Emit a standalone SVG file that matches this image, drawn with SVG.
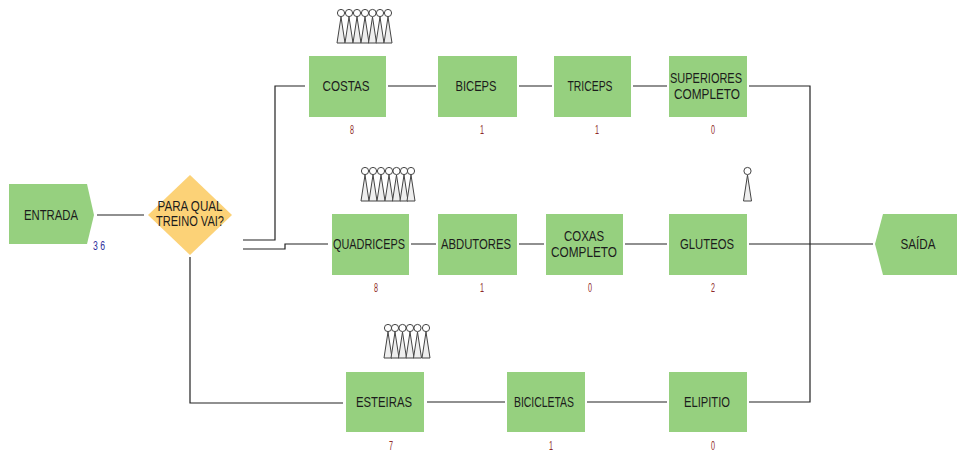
<svg xmlns="http://www.w3.org/2000/svg" width="957" height="453" viewBox="0 0 957 453">
<style>
.n{fill:#96d07f}
.d{fill:#fcd277}
.c{fill:none;stroke:#222;stroke-width:1.2}
.t{font-family:"Liberation Sans",Arial,sans-serif;font-size:14.5px;fill:#1c1c1c;text-anchor:middle}
.r{font-family:"Liberation Sans",Arial,sans-serif;font-size:13px;fill:#8f2b2b;text-anchor:middle}
.b{font-family:"Liberation Sans",Arial,sans-serif;font-size:13px;fill:#2f2f9c}
.p{fill:#eee;stroke:#444;stroke-width:1}
</style>
<defs>
<g id="person">
<polygon class="p" points="0,4 -4,30 4,30"/>
<circle cx="0" cy="0" r="3.600" fill="#fff" stroke="#444" stroke-width="1"/>
</g>
</defs>
<rect width="957" height="453" fill="#fff"/>
<g id="connectors">
<path class="c" d="M97 215H144"/>
<path class="c" d="M243 240H275V86H305"/>
<path class="c" d="M243 249H285V244H328"/>
<path class="c" d="M190 257V403H343"/>
<path class="c" d="M388 86H436M519 86H552M633 86H667"/>
<path class="c" d="M749 86H810V402H749"/>
<path class="c" d="M411 244H436M519 244H544M625 244H667M749 244H873"/>
<path class="c" d="M427 402H505M587 402H667"/>
</g>
<g id="entrada"><polygon class="n" points="9,184 87,184 94,215 87,244 9,244"/><text class="t" x="51" y="219.500" textLength="54" lengthAdjust="spacingAndGlyphs">ENTRADA</text><text class="b" x="93" y="250" textLength="12" lengthAdjust="spacingAndGlyphs">3 6</text></g>
<g id="decisao"><polygon class="d" points="190,175 232,215 190,255 148,215"/><text class="t" x="190" y="211" textLength="65" lengthAdjust="spacingAndGlyphs">PARA QUAL</text><text class="t" x="190" y="226" textLength="68" lengthAdjust="spacingAndGlyphs">TREINO VAI?</text></g>
<g id="costas"><rect class="n" x="309" y="56" width="77" height="61"/><text class="t" x="346" y="90.500" textLength="47" lengthAdjust="spacingAndGlyphs">COSTAS</text><text class="r" x="352" y="134" textLength="4" lengthAdjust="spacingAndGlyphs">8</text></g>
<g id="biceps"><rect class="n" x="438" y="56" width="79" height="61"/><text class="t" x="476" y="90.500" textLength="41" lengthAdjust="spacingAndGlyphs">BICEPS</text><text class="r" x="482" y="134" textLength="4" lengthAdjust="spacingAndGlyphs">1</text></g>
<g id="triceps"><rect class="n" x="554" y="56" width="77" height="61"/><text class="t" x="590" y="90.500" textLength="45" lengthAdjust="spacingAndGlyphs">TRICEPS</text><text class="r" x="597" y="134" textLength="4" lengthAdjust="spacingAndGlyphs">1</text></g>
<g id="superiores"><rect class="n" x="669" y="56" width="78" height="61"/><text class="t" x="706" y="82.500" textLength="72" lengthAdjust="spacingAndGlyphs">SUPERIORES</text><text class="t" x="707" y="98.500" textLength="66" lengthAdjust="spacingAndGlyphs">COMPLETO</text><text class="r" x="713" y="134" textLength="4" lengthAdjust="spacingAndGlyphs">0</text></g>
<g id="quadriceps"><rect class="n" x="332" y="214" width="77" height="61"/><text class="t" x="369" y="249" textLength="72" lengthAdjust="spacingAndGlyphs">QUADRICEPS</text><text class="r" x="376" y="292" textLength="4" lengthAdjust="spacingAndGlyphs">8</text></g>
<g id="abdutores"><rect class="n" x="438" y="214" width="79" height="61"/><text class="t" x="476" y="249" textLength="70" lengthAdjust="spacingAndGlyphs">ABDUTORES</text><text class="r" x="482" y="292" textLength="4" lengthAdjust="spacingAndGlyphs">1</text></g>
<g id="coxas"><rect class="n" x="546" y="214" width="77" height="61"/><text class="t" x="584" y="241" textLength="40" lengthAdjust="spacingAndGlyphs">COXAS</text><text class="t" x="584" y="256.500" textLength="66" lengthAdjust="spacingAndGlyphs">COMPLETO</text><text class="r" x="590" y="292" textLength="4" lengthAdjust="spacingAndGlyphs">0</text></g>
<g id="gluteos"><rect class="n" x="669" y="214" width="78" height="61"/><text class="t" x="707" y="249" textLength="54" lengthAdjust="spacingAndGlyphs">GLUTEOS</text><text class="r" x="713" y="292" textLength="4" lengthAdjust="spacingAndGlyphs">2</text></g>
<g id="saida"><polygon class="n" points="883,214 957,214 957,275 883,275 875,244"/><text class="t" x="918" y="249" textLength="35" lengthAdjust="spacingAndGlyphs">SAÍDA</text></g>
<g id="esteiras"><rect class="n" x="346" y="372" width="78" height="60"/><text class="t" x="384" y="407" textLength="56" lengthAdjust="spacingAndGlyphs">ESTEIRAS</text><text class="r" x="391" y="450" textLength="4" lengthAdjust="spacingAndGlyphs">7</text></g>
<g id="bicicletas"><rect class="n" x="507" y="372" width="78" height="60"/><text class="t" x="544" y="407" textLength="60" lengthAdjust="spacingAndGlyphs">BICICLETAS</text><text class="r" x="551" y="450" textLength="4" lengthAdjust="spacingAndGlyphs">1</text></g>
<g id="elipitio"><rect class="n" x="669" y="372" width="78" height="60"/><text class="t" x="707" y="407" textLength="46" lengthAdjust="spacingAndGlyphs">ELIPITIO</text><text class="r" x="713" y="450" textLength="4" lengthAdjust="spacingAndGlyphs">0</text></g>
<g id="fila-costas"><use href="#person" x="341" y="13"/><use href="#person" x="349" y="13"/><use href="#person" x="357" y="13"/><use href="#person" x="365" y="13"/><use href="#person" x="372.500" y="13"/><use href="#person" x="380" y="13"/><use href="#person" x="388" y="13"/></g>
<g id="fila-quadriceps"><use href="#person" x="365" y="171"/><use href="#person" x="373" y="171"/><use href="#person" x="381" y="171"/><use href="#person" x="389" y="171"/><use href="#person" x="396.500" y="171"/><use href="#person" x="404" y="171"/><use href="#person" x="411" y="171"/></g>
<g id="fila-esteiras"><use href="#person" x="388" y="328"/><use href="#person" x="395" y="328"/><use href="#person" x="402.500" y="328"/><use href="#person" x="410" y="328"/><use href="#person" x="417.500" y="328"/><use href="#person" x="426" y="328"/></g>
<g id="fila-gluteos"><use href="#person" x="747.500" y="171"/></g>
</svg>
